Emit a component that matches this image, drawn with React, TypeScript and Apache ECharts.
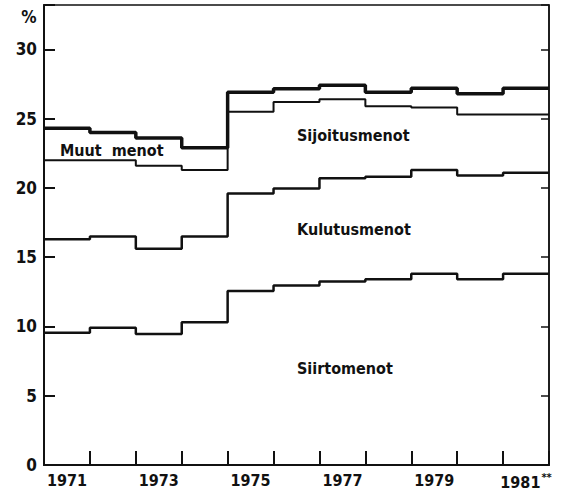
import React, { useEffect, useRef } from "react";
import * as echarts from "echarts";

const years = ["1971", "1972", "1973", "1974", "1975", "1976", "1977", "1978", "1979", "1980", "1981"];
const firstYear = 1971;
const lastBoundary = 1982;

// top edge of each cumulative band (%)
const muutTop = [24.3, 24.0, 23.6, 22.9, 26.9, 27.15, 27.4, 26.9, 27.2, 26.8, 27.2];
const sijoitusTop = [22.0, 22.0, 21.6, 21.3, 25.5, 26.2, 26.4, 25.9, 25.8, 25.3, 25.3];
const kulutusTop = [16.3, 16.5, 15.6, 16.5, 19.6, 19.95, 20.7, 20.8, 21.3, 20.9, 21.1];
const siirtoTop = [9.55, 9.9, 9.45, 10.3, 12.55, 12.95, 13.25, 13.4, 13.8, 13.4, 13.8];

const yTickLabels = [0, 5, 10, 15, 20, 25, 30];

const FONT = '"DejaVu Sans Condensed", "Liberation Sans Narrow", "Roboto Condensed", "DejaVu Sans", sans-serif';
const INK = "#111";

function toSteps(vals: number[]) {
  const pts: [number, number][] = vals.map((v, i) => [firstYear + i, v]);
  pts.push([lastBoundary, vals[vals.length - 1]]);
  return pts;
}

export default function App() {
  const ref = useRef<HTMLDivElement>(null);
  useEffect(() => {
    if (!ref.current) return;
    const chart = echarts.init(ref.current, null, { renderer: "svg" });
    const lineSeries = (name: string, vals: number[], width: number) => ({
      name,
      type: "line",
      xAxisIndex: 0,
      yAxisIndex: 0,
      step: "end",
      showSymbol: false,
      symbol: "none",
      data: toSteps(vals),
      lineStyle: { color: INK, width },
      silent: true,
    });
    const labelText = (text: string, x: number, y: number, align = "left", size = 16) => ({
      type: "text",
      x,
      y,
      silent: true,
      style: {
        text,
        fill: INK,
        fontFamily: FONT,
        fontWeight: "bold",
        fontSize: size,
        textAlign: align,
        textVerticalAlign: "middle",
      },
    });
    chart.setOption({
      animation: false,
      backgroundColor: "#fff",
      grid: {
        left: 44,
        right: 12,
        top: 5,
        bottom: 27,
        show: true,
        borderColor: INK,
        borderWidth: 1.5,
        backgroundColor: "transparent",
      },
      xAxis: [
        {
          type: "value",
          min: firstYear,
          max: lastBoundary,
          interval: 1,
          position: "bottom",
          axisLine: { show: true, lineStyle: { color: INK, width: 2 } },
          axisTick: { show: true, inside: true, length: 14, lineStyle: { color: INK, width: 2 } },
          axisLabel: { show: false },
          splitLine: { show: false },
        },
        {
          type: "category",
          data: years,
          boundaryGap: true,
          position: "bottom",
          axisLine: { show: false },
          axisTick: { show: false },
          splitLine: { show: false },
          axisLabel: {
            interval: 1,
            margin: 7,
            color: INK,
            fontFamily: FONT,
            fontWeight: "bold",
            fontSize: 16,
            formatter: (v: string) => (v === years[years.length - 1] ? `${v}{s|**}` : v),
            rich: {
              s: { fontSize: 11, fontWeight: "bold", fontFamily: FONT, color: INK, verticalAlign: "top", padding: [0, 0, 9, 1] },
            },
          },
        },
      ],
      yAxis: [
        {
          type: "value",
          min: 0,
          max: 33.2,
          interval: 5,
          position: "left",
          axisLine: { show: true, lineStyle: { color: INK, width: 2 } },
          axisTick: { show: true, inside: true, length: 11, lineStyle: { color: INK, width: 2 } },
          axisLabel: {
            margin: 7,
            color: INK,
            fontFamily: FONT,
            fontWeight: "bold",
            fontSize: 17,
            formatter: (v: number) => (yTickLabels.includes(v) ? String(v) : ""),
          },
          splitLine: { show: false },
        },
        {
          type: "value",
          min: 0,
          max: 33.2,
          interval: 5,
          position: "right",
          axisLine: { show: true, lineStyle: { color: INK, width: 1.5 } },
          axisTick: { show: true, inside: true, length: 8, lineStyle: { color: INK, width: 1.5 } },
          axisLabel: { show: false },
          splitLine: { show: false },
        },
      ],
      series: [
        lineSeries("Muut menot", muutTop, 3.5),
        lineSeries("Sijoitusmenot", sijoitusTop, 2),
        lineSeries("Kulutusmenot", kulutusTop, 2.5),
        lineSeries("Siirtomenot", siirtoTop, 2.5),
      ],
      graphic: [
        labelText("%", 29, 17, "center", 17),
        labelText("Muut  menot", 60, 150),
        labelText("Sijoitusmenot", 297, 135),
        labelText("Kulutusmenot", 297, 229),
        labelText("Siirtomenot", 297, 368),
      ],
    });
    return () => chart.dispose();
  }, []);
  return (
    <div
      ref={ref}
      style={{ position: "fixed", left: 0, top: 0, width: 561, height: 492, background: "#fff" }}
    />
  );
}
